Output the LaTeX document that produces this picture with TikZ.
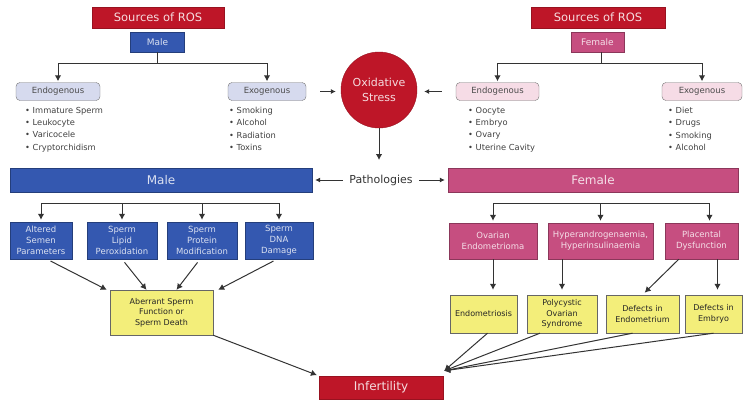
\documentclass[tikz,border=0pt]{standalone}
\usepackage{fontspec}
\setmainfont{DejaVu Sans}
\usepackage{tikz}
\usetikzlibrary{
    calc,
    arrows.meta,
    shapes.geometric
}
\definecolor{rosred}{RGB}{190,22,40}
\definecolor{maleblue}{RGB}{52,88,176}
\definecolor{femalepink}{RGB}{198,78,128}
\definecolor{endoblue}{RGB}{214,218,238}
\definecolor{endopink}{RGB}{246,220,230}
\definecolor{paleyellow}{RGB}{243,238,122}
\tikzset{
    rosbox/.style={fill=rosred, draw=rosred!80!black, text=white!85!rosred,
        inner sep=0pt, align=center, font=\fontsize{11.5}{13}\selectfont},
    malebox/.style={fill=maleblue, draw=maleblue!70!black, text=white!82!maleblue,
        inner sep=0pt, align=center, font=\fontsize{8.5}{11}\selectfont},
    femalebox/.style={fill=femalepink, draw=femalepink!70!black, text=white!82!femalepink,
        inner sep=0pt, align=center, font=\fontsize{8.5}{11}\selectfont},
    srcbox/.style={rounded corners=4pt, draw=black!55, text=black!70,
        inner sep=0pt, minimum height=18pt, font=\fontsize{8.5}{9}\selectfont},
    itemlist/.style={anchor=north west, align=left, inner sep=0pt, text=black!75,
        font=\fontsize{8.3}{12.3}\selectfont},
    yellowbox/.style={fill=paleyellow, draw=black!60, text=black!85,
        inner sep=0pt, align=center, font=\fontsize{8}{10.5}\selectfont},
    arr/.style={-{Latex[length=6pt, width=6.5pt]}, line width=1pt, draw=black!80},
    thinarr/.style={-{Latex[length=5pt, width=5pt]}, line width=0.8pt, draw=black!80},
    plain/.style={line width=1pt, draw=black!80}
}
\begin{document}
\begin{tikzpicture}[x=1pt, y=-1pt]
    \useasboundingbox (0,0) rectangle (744,399);

    % sources of ROS
    \node[rosbox, minimum width=132pt, minimum height=21pt] (rosM) at (158,17.5) {Sources of ROS};
    \node[rosbox, minimum width=134pt, minimum height=21pt] (rosF) at (598,17.5) {Sources of ROS};
    \node[malebox, minimum width=54pt, minimum height=20pt, font=\fontsize{9}{9}\selectfont] (sexM) at (157.5,42) {Male};
    \node[femalebox, minimum width=53pt, minimum height=20pt, font=\fontsize{9}{9}\selectfont] (sexF) at (597.5,42) {Female};

    \node[srcbox, fill=endoblue, minimum width=84pt] (endoM) at (58,91.5) {Endogenous};
    \node[srcbox, fill=endoblue, minimum width=78pt] (exoM) at (267,91.5) {Exogenous};
    \node[srcbox, fill=endopink, minimum width=83pt] (endoF) at (497.5,91.5) {Endogenous};
    \node[srcbox, fill=endopink, minimum width=80pt] (exoF) at (702,91.5) {Exogenous};

    \node[itemlist] (endoMlist) at (25,107) {\textbullet\ Immature Sperm\\ \textbullet\ Leukocyte\\ \textbullet\ Varicocele\\ \textbullet\ Cryptorchidism};
    \node[itemlist] (exoMlist) at (229,107) {\textbullet\ Smoking\\ \textbullet\ Alcohol\\ \textbullet\ Radiation\\ \textbullet\ Toxins};
    \node[itemlist] (endoFlist) at (468,107) {\textbullet\ Oocyte\\ \textbullet\ Embryo\\ \textbullet\ Ovary\\ \textbullet\ Uterine Cavity};
    \node[itemlist] (exoFlist) at (668,107) {\textbullet\ Diet\\ \textbullet\ Drugs\\ \textbullet\ Smoking\\ \textbullet\ Alcohol};

    \coordinate (jM) at (157.5,63);
    \coordinate (jF) at (601,63);
    \draw[plain] (sexM.south) -- (jM);
    \draw[arr, shorten >=1pt] (jM) -| (endoM);
    \draw[arr, shorten >=1pt] (jM) -| (exoM);
    \draw[plain] (sexF.south -| jF) -- (jF);
    \draw[arr, shorten >=1pt] (jF) -| (endoF);
    \draw[arr, shorten >=1pt] (jF) -| (exoF);

    % oxidative stress and pathologies
    \node[circle, fill=rosred, draw=rosred!80!black, minimum size=76pt, inner sep=0pt, align=center,
        text=white!85!rosred, font=\fontsize{11}{15}\selectfont] (oxid) at (379,90) {Oxidative\\Stress};
    \node[font=\fontsize{11}{14}\selectfont, text=black!80] (path) at (381,180) {Pathologies};
    \draw[thinarr, shorten <=14pt, shorten >=5pt] (exoM.east) -- (exoM.east -| oxid.west);
    \draw[thinarr, shorten <=14pt, shorten >=7pt] (endoF.west) -- (endoF.west -| oxid.east);
    \draw[arr, shorten >=3pt] (oxid.south) -- (oxid.south |- 0,163);

    % male pathologies
    \node[malebox, minimum width=302pt, minimum height=24pt, font=\fontsize{12}{13}\selectfont] (barM) at (161,180) {Male};
    \node[malebox, minimum width=62pt, minimum height=37pt] (b1) at (41,240.5) {Altered\\Semen\\Parameters};
    \node[malebox, minimum width=70pt, minimum height=37pt] (b2) at (122,240.5) {Sperm\\Lipid\\Peroxidation};
    \node[malebox, minimum width=70pt, minimum height=37pt] (b3) at (202,240.5) {Sperm\\Protein\\Modification};
    \node[malebox, minimum width=68pt, minimum height=37pt] (b4) at (279,240.5) {Sperm\\DNA\\Damage};
    \node[yellowbox, minimum width=103pt, minimum height=45pt] (abn) at (161.5,312.5) {Aberrant Sperm\\Function or\\Sperm Death};

    % female pathologies
    \node[femalebox, minimum width=290pt, minimum height=24pt, font=\fontsize{12}{13}\selectfont] (barF) at (593,180) {Female};
    \node[femalebox, minimum width=88pt, minimum height=36pt] (p1) at (493,241) {Ovarian\\Endometrioma};
    \node[femalebox, minimum width=105pt, minimum height=36pt] (p2) at (600.5,241) {Hyperandrogenaemia,\\Hyperinsulinaemia};
    \node[femalebox, minimum width=73pt, minimum height=36pt] (p3) at (701.5,241) {Placental\\Dysfunction};
    \node[yellowbox, minimum width=67pt, minimum height=38pt] (y1) at (483.5,314) {Endometriosis};
    \node[yellowbox, minimum width=70pt, minimum height=38pt] (y2) at (562,314) {Polycystic\\Ovarian\\Syndrome};
    \node[yellowbox, minimum width=73pt, minimum height=38pt] (y3) at (642.5,314) {Defects in\\Endometrium};
    \node[yellowbox, minimum width=57pt, minimum height=38pt] (y4) at (713.5,314) {Defects in\\Embryo};

    \node[rosbox, minimum width=124pt, minimum height=23pt, font=\fontsize{12}{14}\selectfont] (infert) at (381,387.5) {Infertility};

    \draw[thinarr, shorten <=3pt, shorten >=3pt] (path.west) -- (path.west -| barM.east);
    \draw[thinarr, shorten <=3pt, shorten >=3pt] (path.east) -- (path.east -| barF.west);

    \coordinate (jMb) at (0,203);
    \coordinate (jFb) at (0,203);
    \draw[plain] (b1.north |- jMb) -- (b4.north |- jMb);
    \foreach \b in {b1,b2,b3,b4}
        \draw[arr, shorten >=2pt] (\b.north |- jMb) -- (\b.north);
    \draw[arr, shorten <=4pt] ([xshift=6pt]b1.south) -- ([xshift=-3pt]abn.north west);
    \draw[arr, shorten <=4pt] (b2.south) -- ([xshift=-15pt]abn.north);
    \draw[arr, shorten <=4pt] ([xshift=-2pt]b3.south) -- ([xshift=15pt]abn.north);
    \draw[arr, shorten <=4pt] ([xshift=-2pt]b4.south) -- ([xshift=5pt]abn.north east);
    \draw[arr, shorten >=2pt] (abn.south east) -- (infert.north west);

    \draw[plain] (p1.north |- jFb) -- ([xshift=8pt]p3.north |- jFb);
    \draw[arr, shorten >=2pt] (p1.north |- jFb) -- (p1.north);
    \draw[arr, shorten >=2pt] (p2.north |- jFb) -- (p2.north);
    \draw[arr, shorten >=2pt] ([xshift=8pt]p3.north |- jFb) -- ([xshift=8pt]p3.north);
    \draw[arr, shorten >=5pt] (p1.south) -- (p1.south |- y1.north);
    \draw[arr, shorten >=5pt] (y2.north |- p2.south) -- (y2.north);
    \draw[arr, shorten >=3pt] ([xshift=14pt]p3.south west) -- (y3.north);
    \draw[arr, shorten >=5pt] ([xshift=4pt]y4.north |- p3.south) -- ([xshift=4pt]y4.north);

    \coordinate (tip) at ([shift={(1,-5)}]infert.north east);
    \draw[arr] ([xshift=4pt]y1.south) -- (tip);
    \draw[arr] ([xshift=-22pt]y2.south) -- (tip);
    \draw[arr] ([xshift=-10pt]y3.south) -- (tip);
    \draw[arr] (y4.south) -- (tip);
\end{tikzpicture}
\end{document}
